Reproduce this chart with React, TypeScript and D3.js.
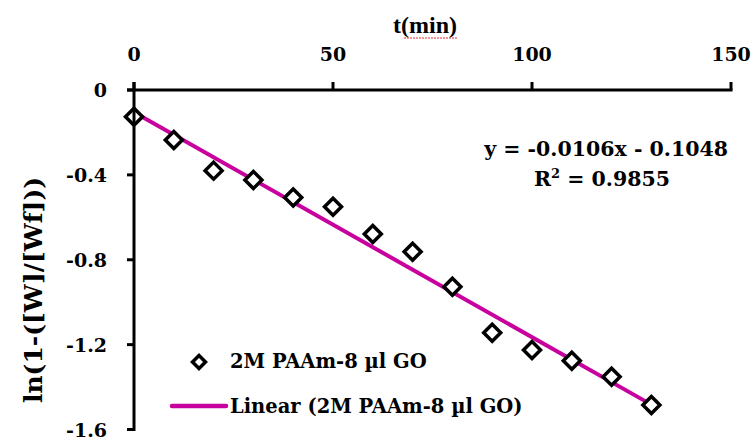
import React from "react";
import * as d3 from "d3";

const times = [0, 10, 20, 30, 40, 50, 60, 70, 80, 90, 100, 110, 120, 130];
const values = [-0.126, -0.236, -0.38, -0.424, -0.507, -0.55, -0.679, -0.762, -0.927, -1.144, -1.225, -1.276, -1.351, -1.485];
const xTicks = [0, 50, 100, 150];
const yTicks = [0, -0.4, -0.8, -1.2, -1.6];
const yTickLabels = ["0", "-0.4", "-0.8", "-1.2", "-1.6"];
const slope = -0.0106;
const intercept = -0.1048;
const seriesName = "2M PAAm-8 µl GO";
const equationText = "y = -0.0106x - 0.1048";
const r2Value = "0.9855";

const W = 752;
const H = 442;
const FONT = "'DejaVu Serif', serif";
const TITLE_FONT = "'Liberation Serif', 'Times New Roman', serif";
const MAGENTA = "#C8009E";

export default function App() {
  const x = d3.scaleLinear().domain([0, 150]).range([134, 731]);
  const y = d3.scaleLinear().domain([0, -1.6]).range([90, 429.5]);
  const fitX = [d3.min(times)!, d3.max(times)!];
  const line = d3
    .line<number>()
    .x((t) => x(t))
    .y((t) => y(slope * t + intercept));
  const diamond = (cx: number, cy: number, r: number) =>
    `M${cx},${cy - r}L${cx + r},${cy}L${cx},${cy + r}L${cx - r},${cy}Z`;

  return (
    <svg width={W} height={H} style={{ position: "absolute", left: 0, top: 0 }} fontFamily={FONT}>
      <rect width={W} height={H} fill="#fff" />
      {/* fit line */}
      <path d={line(fitX) || ""} stroke={MAGENTA} strokeWidth={4} fill="none" />
      {/* points */}
      {times.map((t, i) => (
        <path key={i} d={diamond(x(t), y(values[i]), 8.5)} fill="#fff" stroke="#000" strokeWidth={3.5} />
      ))}
      {/* x axis at top */}
      <line x1={x(0) - 7} x2={x(150) + 1.5} y1={y(0)} y2={y(0)} stroke="#000" strokeWidth={3} />
      {xTicks.map((t) => (
        <g key={t}>
          <line x1={x(t)} x2={x(t)} y1={y(0)} y2={y(0) - 8} stroke="#000" strokeWidth={3} />
          <text x={x(t)} y={61} textAnchor="middle" fontSize={19} fontWeight="bold">
            {t}
          </text>
        </g>
      ))}
      <text x={425} y={33} textAnchor="middle" fontSize={24} fontWeight="bold" fontFamily={TITLE_FONT}>
        t(min)
      </text>
      <path d="M404,38 L458,38" stroke="#e03030" strokeWidth={1} strokeDasharray="2,1" />
      {/* y axis */}
      <line x1={x(0)} x2={x(0)} y1={y(0) - 8} y2={y(-1.6) + 1.5} stroke="#000" strokeWidth={3} />
      {yTicks.map((v, i) => (
        <g key={i}>
          <line x1={x(0) - 7} x2={x(0)} y1={y(v)} y2={y(v)} stroke="#000" strokeWidth={3} />
          <text x={107} y={y(v) + 7} textAnchor="end" fontSize={19} fontWeight="bold">
            {yTickLabels[i]}
          </text>
        </g>
      ))}
      <text
        transform={`translate(42,290) rotate(-90)`}
        textAnchor="middle"
        fontSize={25}
        fontWeight="bold"
      >
        ln(1-([W]/[Wf]))
      </text>
      {/* equation */}
      <text x={728} y={156} textAnchor="end" fontSize={20.5} fontWeight="bold">
        {equationText}
      </text>
      <text x={602} y={186} textAnchor="middle" fontSize={20.5} fontWeight="bold">
        R<tspan dy={-8} fontSize={13}>2</tspan>
        <tspan dy={8}> = {r2Value}</tspan>
      </text>
      {/* legend */}
      <path d={diamond(199, 362, 6.5)} fill="#fff" stroke="#000" strokeWidth={3.5} />
      <text x={230} y={368} fontSize={19.5} fontWeight="bold">
        {seriesName}
      </text>
      <line x1={172} x2={226} y1={406} y2={406} stroke={MAGENTA} strokeWidth={4.5} strokeLinecap="round" />
      <text x={230} y={413} fontSize={19.5} fontWeight="bold">
        Linear ({seriesName})
      </text>
    </svg>
  );
}
